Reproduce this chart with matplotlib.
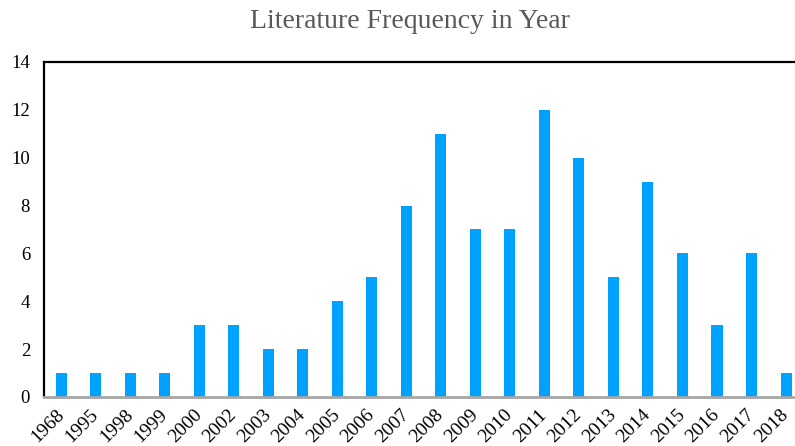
import matplotlib
matplotlib.use("Agg")
import matplotlib.pyplot as plt
import numpy as np

years = ["1968", "1995", "1998", "1999", "2000", "2002", "2003", "2004", "2005",
         "2006", "2007", "2008", "2009", "2010", "2011", "2012", "2013", "2014",
         "2015", "2016", "2017", "2018"]
counts = [1, 1, 1, 1, 3, 3, 2, 2, 4, 5, 8, 11, 7, 7, 12, 10, 5, 9, 6, 3, 6, 1]
yticks = [0, 2, 4, 6, 8, 10, 12, 14]

plt.rcParams["font.family"] = ["Liberation Serif", "DejaVu Serif"]

fig = plt.figure(figsize=(7.95, 4.46), dpi=100)
ax = fig.add_axes([0.0553, 0.1099, 0.9447, 0.7511])

x = np.arange(len(years))
ax.bar(x, counts, width=0.32, color="#00A2FF", zorder=2)

ax.set_xlim(-0.5, len(years) - 1 + 0.26)
ax.set_ylim(0, 14)
ax.set_yticks(yticks)
ax.set_yticklabels([str(v) for v in yticks], fontsize=13.5)
ax.set_xticks(x)
ax.set_xticklabels(years, rotation=45, ha="right", va="center",
                   rotation_mode="anchor", fontsize=14)

ax.tick_params(axis="both", length=0)
ax.tick_params(axis="y", pad=10)
ax.tick_params(axis="x", pad=11)

ax.spines["right"].set_visible(False)
ax.spines["top"].set_color("black")
ax.spines["top"].set_linewidth(1.6)
ax.spines["left"].set_color("black")
ax.spines["left"].set_linewidth(1.6)
ax.spines["bottom"].set_color("#A6A6A6")
ax.spines["bottom"].set_linewidth(2.0)

fig.text(0.516, 0.952, "Literature Frequency in Year", ha="center", va="center",
         fontsize=20, color="#595959")

fig.savefig("out.png", dpi=100)
